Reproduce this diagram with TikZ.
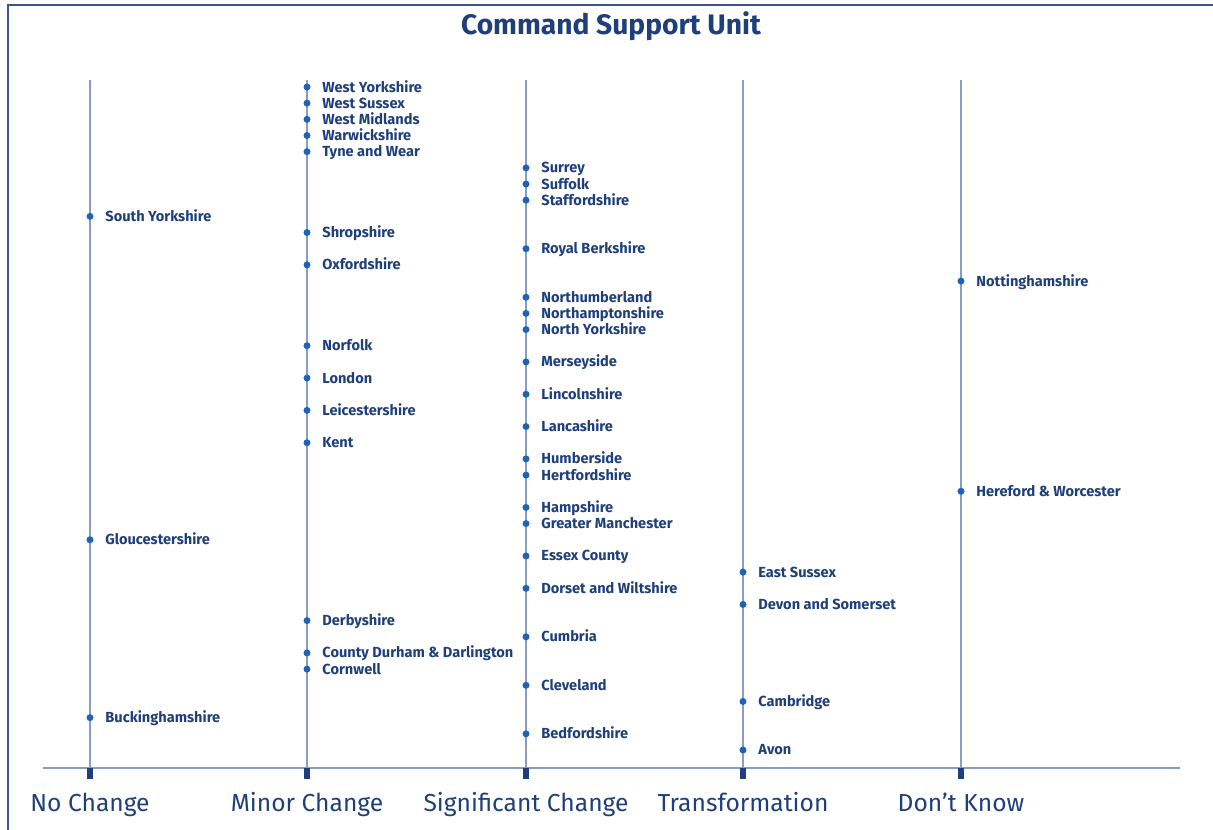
\documentclass[tikz,border=0pt]{standalone}
\usepackage{fontspec}
\setmainfont{Fira Sans}
\usetikzlibrary{positioning}

\definecolor{navy}{HTML}{1F3F7A}
\definecolor{dotblue}{HTML}{1F63B8}
\definecolor{stemblue}{HTML}{8A9CC4}
\definecolor{framblue}{HTML}{3A5590}

\tikzset{
  frameline/.style={draw=framblue, line width=1.2pt},
  stem/.style={draw=stemblue, line width=1.2pt},
  axisline/.style={draw=stemblue, line width=1.6pt},
  tickmark/.style={fill=navy},
  dotmark/.style={circle, fill=dotblue, inner sep=0pt, minimum size=7pt},
  itemlab/.style={text=navy, font=\bfseries\fontsize{14.6}{14.6}\selectfont, inner sep=0pt},
  catlab/.style={text=navy, font=\fontsize{24.6}{24.6}\selectfont, inner sep=0pt, anchor=base},
  titlelab/.style={text=navy, font=\bfseries\fontsize{28.2}{28.2}\selectfont, inner sep=0pt, anchor=base}
}

\begin{document}
\begin{tikzpicture}[x=1pt,y=-1pt]
\useasboundingbox (0,0) rectangle (1213,830);

% frame and title
\draw[frameline] (8,830) -- (8,5) -- (1213,5);
\node[titlelab] (title) at (611,34.5) {Command Support Unit};

% axis
\coordinate (axisL) at (43,768);
\coordinate (axisR) at (1180,768);
\draw[axisline] (axisL) -- (axisR);

% columns
\foreach \n/\x/\t in {nc/90/No Change, mc/307/Minor Change, sc/526/Significant Change,
                      tr/743/Transformation, dk/961/Don’t Know}{
  \coordinate (\n-top) at (\x,80);
  \coordinate (\n-bot) at (\x,768);
  \draw[stem] (\n-top) -- (\n-bot);
  \fill[tickmark] (\x-3,768) rectangle (\x+3,779);
  \node[catlab] (\n-lab) at (\x,811) {\t};
}

% entries: x / row / text
\foreach \x/\i/\t [count=\k] in {
   90/8/South Yorkshire, 90/28/Gloucestershire, 90/39/Buckinghamshire,
   307/0/West Yorkshire, 307/1/West Sussex, 307/2/West Midlands,
   307/3/Warwickshire, 307/4/Tyne and Wear, 307/9/Shropshire,
   307/11/Oxfordshire, 307/16/Norfolk, 307/18/London,
   307/20/Leicestershire, 307/22/Kent, 307/33/Derbyshire,
   307/35/County Durham \& Darlington, 307/36/Cornwell,
   526/5/Surrey, 526/6/Suffolk, 526/7/Staffordshire,
   526/10/Royal Berkshire, 526/13/Northumberland, 526/14/Northamptonshire,
   526/15/North Yorkshire, 526/17/Merseyside, 526/19/Lincolnshire,
   526/21/Lancashire, 526/23/Humberside, 526/24/Hertfordshire,
   526/26/Hampshire, 526/27/Greater Manchester, 526/29/Essex County,
   526/31/Dorset and Wiltshire, 526/34/Cumbria, 526/37/Cleveland,
   526/40/Bedfordshire,
   743/30/East Sussex, 743/32/Devon and Somerset, 743/38/Cambridge,
   743/41/Avon,
   961/12/Nottinghamshire, 961/25/Hereford \& Worcester}{
  \node[dotmark] (dot\k) at (\x,87+16.17*\i) {};
  \node[itemlab, right=11.5pt of dot\k, anchor=base west, yshift=-5pt] (item\k) {\t};
}
\end{tikzpicture}
\end{document}
